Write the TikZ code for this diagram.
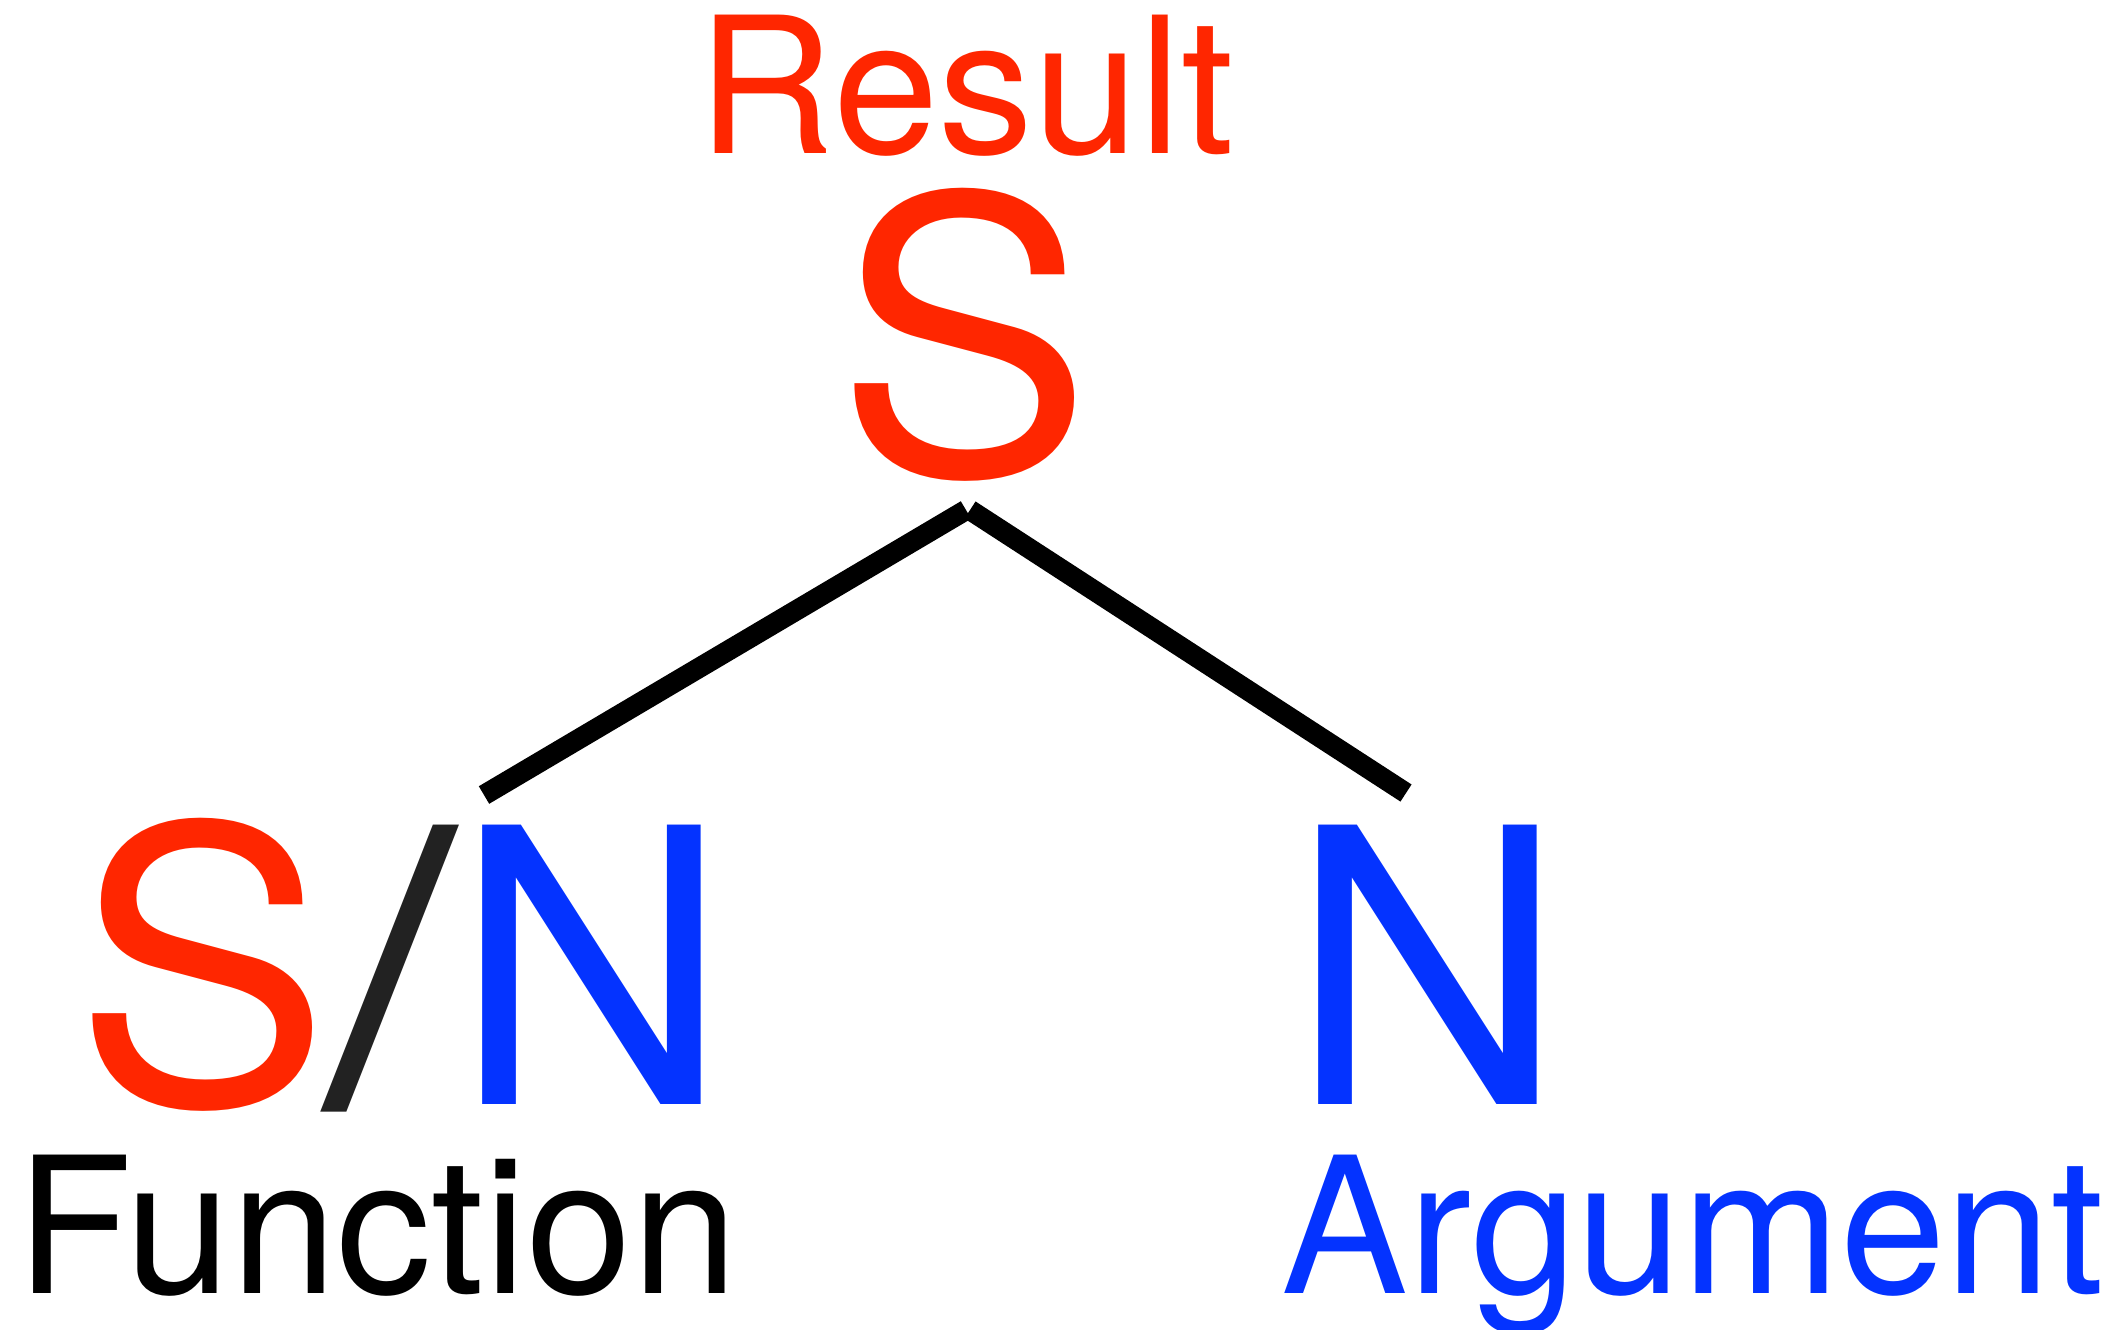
\documentclass[tikz,border=0pt]{standalone}
\usepackage{fontspec}
\setmainfont{TeX Gyre Heros}
\usepackage{xcolor}
\usetikzlibrary{positioning, calc}
\definecolor{stred}{RGB}{255,38,0}
\definecolor{stblue}{RGB}{4,51,255}
\definecolor{stdark}{RGB}{34,34,34}

\begin{document}
\begin{tikzpicture}[x=0.01cm, y=-0.01cm,
  big/.style={inner sep=0pt, anchor=base, font=\fontsize{109}{109}\selectfont},
  tag/.style={inner sep=0pt, anchor=base, font=\fontsize{54}{54}\selectfont},
  branch/.style={line width=5.8pt, line cap=butt}
]
\useasboundingbox (0,0) rectangle (2118,1329);
\node[tag, text=stred] (result) at (966,153) {Result};
\node[big, text=stred] (res) at (964,474) {S};
% Categories
\node[big, text=stred] (funS) at (202,1104) {S};
\node[big, text=stdark, xscale=1.24] (slash) at (391,1104) {/};
\node[big, text=stblue] (funN) at (592,1104) {N};
\node[big, text=stblue] (arg) at (1428,1104) {N};
% Labels
\node[tag] (funlab) at (377,1293) {Function};
\node[tag, text=stblue] (arglab) at (1693,1293) {Argument};
% Branches
\coordinate (topL) at (966,510);
\coordinate (topR) at (970,510);
\coordinate (endL) at (484,795);
\coordinate (endR) at (1406,793);
\draw[branch] (topL) -- (endL);
\draw[branch] (topR) -- (endR);
\end{tikzpicture}
\end{document}
